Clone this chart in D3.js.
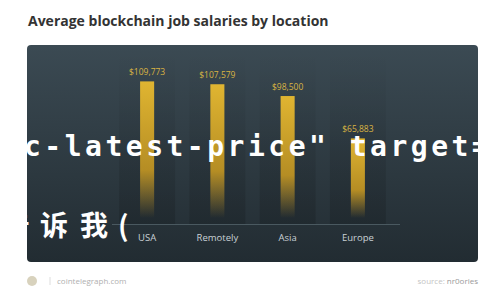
<!DOCTYPE html>
<html>
<head>
<meta charset="utf-8">
<script src="https://cdn.jsdelivr.net/npm/d3@7"></script>
<style>
  body { margin: 0; background: #fff; }
  svg { display: block; }
</style>
</head>
<body>
<svg id="chart" width="500" height="300"></svg>
<script>
// chart data
var locations = ["USA", "Remotely", "Asia", "Europe"];
var salaries = [109773, 107579, 98500, 65883];
var title = "Average blockchain job salaries by location";

var svg = d3.select("#chart");
var defs = svg.append("defs");

var bg = defs.append("linearGradient").attr("id", "bg").attr("x1", 0).attr("y1", 0).attr("x2", 0).attr("y2", 1);
bg.append("stop").attr("offset", "0%").attr("stop-color", "#3b4a53");
bg.append("stop").attr("offset", "100%").attr("stop-color", "#222c32");

var gold = defs.append("linearGradient").attr("id", "gold").attr("x1", 0).attr("y1", 0).attr("x2", 0).attr("y2", 1);
gold.append("stop").attr("offset", "0%").attr("stop-color", "#e0b531");
gold.append("stop").attr("offset", "65%").attr("stop-color", "#b58d24");
gold.append("stop").attr("offset", "100%").attr("stop-color", "#b58d24").attr("stop-opacity", 0);

var band = defs.append("linearGradient").attr("id", "band").attr("x1", 0).attr("y1", 0).attr("x2", 0).attr("y2", 1);
band.append("stop").attr("offset", "0%").attr("stop-color", "#000").attr("stop-opacity", 0);
band.append("stop").attr("offset", "100%").attr("stop-color", "#000").attr("stop-opacity", 0.15);

svg.append("text").attr("x", 28).attr("y", 26)
  .attr("font-family", "'Open Sans', sans-serif").attr("font-weight", 700)
  .attr("font-size", 14).attr("fill", "#333").text(title);

// panel
svg.append("rect").attr("x", 27).attr("y", 45).attr("width", 451).attr("height", 217)
  .attr("rx", 4).attr("fill", "url(#bg)");

var x = d3.scaleBand().domain(locations).range([112, 393]).paddingInner(0.8).paddingOuter(0.4);
var y = d3.scaleLinear().domain([0, 110000]).range([224, 81.1]);

var g = svg.append("g");

g.selectAll(".band").data(locations).enter().append("rect")
  .attr("x", function(d) { return x(d) + x.bandwidth() / 2 - 28; })
  .attr("y", 50).attr("width", 56).attr("height", 174)
  .attr("fill", "url(#band)");

g.append("line").attr("x1", 112).attr("x2", 400).attr("y1", 224.5).attr("y2", 224.5)
  .attr("stroke", "#4a5960").attr("stroke-width", 1);

g.selectAll(".bar").data(salaries).enter().append("rect")
  .attr("x", function(d, i) { return x(locations[i]); })
  .attr("y", function(d) { return y(d); })
  .attr("width", x.bandwidth())
  .attr("height", function(d) { return y(0) - y(d) - 6; })
  .attr("fill", "url(#gold)");

g.selectAll(".val").data(salaries).enter().append("text")
  .attr("x", function(d, i) { return x(locations[i]) + x.bandwidth() / 2; })
  .attr("y", function(d) { return y(d) - 6; })
  .attr("text-anchor", "middle")
  .attr("font-family", "'Open Sans', sans-serif").attr("font-size", 8.5)
  .attr("fill", "#d9b443")
  .text(function(d) { return "$" + d3.format(",")(d); });

var xAxis = g.append("g").attr("transform", "translate(0,238)")
  .call(d3.axisBottom(x).tickSize(0).tickPadding(0));
xAxis.select(".domain").remove();
xAxis.selectAll("text").attr("font-family", "'Open Sans', sans-serif")
  .attr("font-size", 9.5).attr("fill", "#c9d1d5").attr("dy", "0.32em");

// overlay text
svg.append("text").attr("x", 24).attr("y", 156)
  .attr("font-family", "'DejaVu Sans Mono', monospace").attr("font-weight", 700)
  .attr("font-size", 28).attr("letter-spacing", 3.5).attr("fill", "#fff")
  .text("c-latest-price\" target=");
svg.append("text").attr("x", "2 40 80 118").attr("y", 236)
  .attr("font-family", "'Noto Sans CJK SC', sans-serif").attr("font-weight", 700)
  .attr("font-size", 28).attr("fill", "#fff")
  .text("告诉我(");

// footer
svg.append("circle").attr("cx", 32).attr("cy", 281).attr("r", 5).attr("fill", "#d8d2bd");
svg.append("line").attr("x1", 50).attr("x2", 50).attr("y1", 277).attr("y2", 285).attr("stroke", "#ddd");
svg.append("text").attr("x", 57).attr("y", 284)
  .attr("font-family", "'Open Sans', sans-serif").attr("font-size", 8).attr("fill", "#b0b0b0")
  .text("cointelegraph.com");
svg.append("text").attr("x", 478).attr("y", 284).attr("text-anchor", "end")
  .attr("font-family", "'Open Sans', sans-serif").attr("font-size", 8).attr("fill", "#999")
  .html("<tspan fill='#c4c4c4'>source:</tspan> nr0ories");
</script>
</body>
</html>
